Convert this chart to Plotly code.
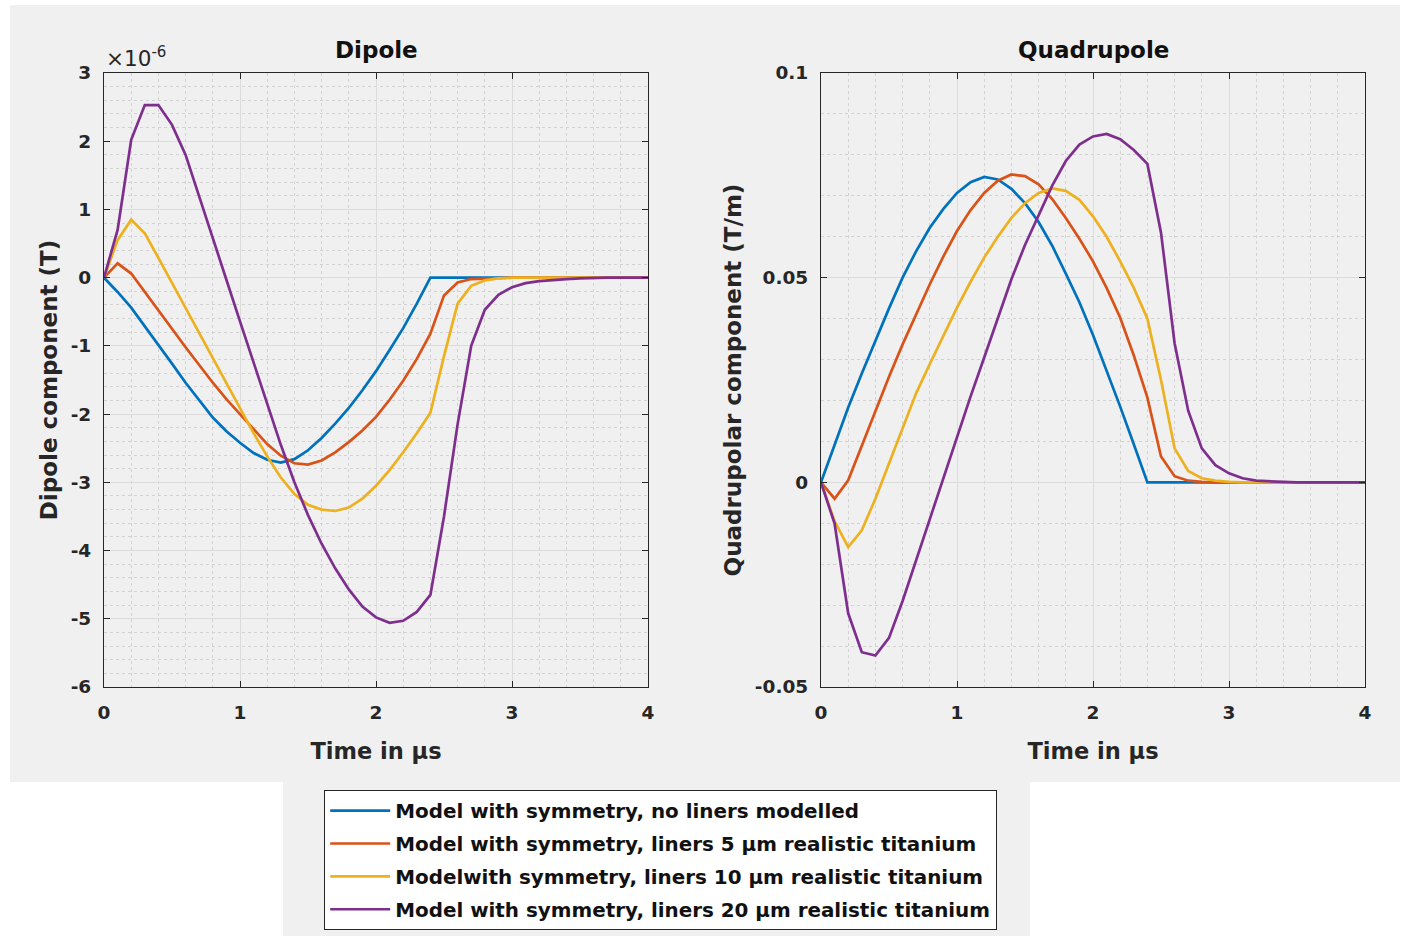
import plotly.graph_objects as go

# ---------------- data ----------------
time_us = [round(0.1 * i, 1) for i in range(41)]

# Dipole component (units of 1e-6 T)
dip_no_liner = [0, -0.21, -0.44, -0.71, -0.98, -1.26, -1.54, -1.80, -2.05, -2.25,
                -2.42, -2.57, -2.67, -2.71, -2.66, -2.53, -2.35, -2.14, -1.91, -1.65,
                -1.37, -1.06, -0.74, -0.38, 0, 0, 0, 0, 0, 0,
                0, 0, 0, 0, 0, 0, 0, 0, 0, 0, 0]
dip_5um = [0, 0.21, 0.06, -0.21, -0.49, -0.76, -1.02, -1.28, -1.54, -1.78,
           -2.00, -2.23, -2.44, -2.61, -2.72, -2.74, -2.68, -2.56, -2.41, -2.24,
           -2.04, -1.79, -1.51, -1.19, -0.82, -0.26, -0.07, -0.02, -0.01, 0,
           0, 0, 0, 0, 0, 0, 0, 0, 0, 0, 0]
dip_10um = [0, 0.55, 0.85, 0.65, 0.29, -0.08, -0.45, -0.82, -1.19, -1.56,
            -1.92, -2.28, -2.62, -2.93, -3.17, -3.33, -3.40, -3.42, -3.37, -3.24,
            -3.05, -2.82, -2.56, -2.28, -1.98, -1.15, -0.38, -0.12, -0.04, -0.01,
            0, 0, 0, 0, 0, 0, 0, 0, 0, 0, 0]
dip_20um = [0, 0.70, 2.02, 2.53, 2.53, 2.24, 1.80, 1.20, 0.58, -0.03,
            -0.64, -1.25, -1.86, -2.45, -3.00, -3.48, -3.90, -4.26, -4.57, -4.82,
            -4.98, -5.06, -5.03, -4.90, -4.65, -3.50, -2.15, -1.00, -0.47, -0.25,
            -0.14, -0.08, -0.05, -0.03, -0.02, -0.01, 0, 0, 0, 0, 0]

# Quadrupolar component (T/m)
quad_no_liner = [0, 0.0092, 0.0183, 0.0266, 0.0346, 0.0425, 0.0500, 0.0565, 0.0622, 0.0668,
                 0.0707, 0.0733, 0.0746, 0.0740, 0.0717, 0.0682, 0.0636, 0.0578, 0.0510, 0.0440,
                 0.0360, 0.0275, 0.0185, 0.0093, 0, 0, 0, 0, 0, 0,
                 0, 0, 0, 0, 0, 0, 0, 0, 0, 0, 0]
quad_5um = [0, -0.0040, 0.0005, 0.0090, 0.0175, 0.0258, 0.0337, 0.0412, 0.0484, 0.0552,
            0.0614, 0.0665, 0.0707, 0.0737, 0.0752, 0.0748, 0.0728, 0.0692, 0.0646, 0.0595,
            0.0540, 0.0475, 0.0402, 0.0310, 0.0207, 0.0063, 0.0015, 0.0004, 0.0001, 0,
            0, 0, 0, 0, 0, 0, 0, 0, 0, 0, 0]
quad_10um = [0, -0.0095, -0.0158, -0.0117, -0.0040, 0.0047, 0.0135, 0.0218, 0.0289, 0.0360,
             0.0427, 0.0490, 0.0549, 0.0600, 0.0646, 0.0682, 0.0707, 0.0718, 0.0712, 0.0690,
             0.0650, 0.0600, 0.0540, 0.0475, 0.0400, 0.0250, 0.0083, 0.0028, 0.0010, 0.0004,
             0.0001, 0, 0, 0, 0, 0, 0, 0, 0, 0, 0]
quad_20um = [0, -0.0101, -0.0320, -0.0415, -0.0423, -0.0380, -0.0290, -0.0190, -0.0085, 0.0015,
             0.0110, 0.0210, 0.0305, 0.0400, 0.0496, 0.0580, 0.0654, 0.0725, 0.0785, 0.0825,
             0.0845, 0.0851, 0.0838, 0.0812, 0.0778, 0.0610, 0.0340, 0.0175, 0.0083, 0.0042,
             0.0022, 0.0010, 0.0004, 0.0002, 0.0001, 0, 0, 0, 0, 0, 0]

series_names = [
    "Model with symmetry, no liners modelled",
    "Model with symmetry, liners 5 \u00b5m realistic titanium",
    "Modelwith symmetry, liners 10 \u00b5m realistic titanium",
    "Model with symmetry, liners 20 \u00b5m realistic titanium",
]
colors = ["#0072BD", "#D95319", "#EDB120", "#7E2F8E"]

dipole_series = [dip_no_liner, dip_5um, dip_10um, dip_20um]
quad_series = [quad_no_liner, quad_5um, quad_10um, quad_20um]

dip_ticks = [-6, -5, -4, -3, -2, -1, 0, 1, 2, 3]
dip_ticktext = ["-6", "-5", "-4", "-3", "-2", "-1", "0", "1", "2", "3"]
quad_ticks = [-0.05, 0, 0.05, 0.1]
quad_ticktext = ["-0.05", "0", "0.05", "0.1"]
x_ticks = [0, 1, 2, 3, 4]
x_ticktext = ["0", "1", "2", "3", "4"]

# ---------------- figure ----------------
W, H = 1401, 936
FONT = "DejaVu Sans, Verdana, sans-serif"
AX = "#262626"

fig = go.Figure()

for i in range(4):
    fig.add_trace(go.Scatter(
        x=time_us, y=dipole_series[i], mode="lines", name=series_names[i],
        line=dict(color=colors[i], width=2.7), legendgroup=str(i),
        xaxis="x", yaxis="y", showlegend=True))
for i in range(4):
    fig.add_trace(go.Scatter(
        x=time_us, y=quad_series[i], mode="lines", name=series_names[i],
        line=dict(color=colors[i], width=2.7), legendgroup=str(i),
        xaxis="x2", yaxis="y2", showlegend=False))

def px_x(p):
    return p / W

def px_y(p):
    return 1 - p / H

common_axis = dict(
    showline=True, linecolor=AX, linewidth=1.2, mirror="allticks",
    ticks="inside", ticklen=6, tickcolor=AX, tickwidth=1,
    showgrid=True, gridcolor="#dcdcdc", gridwidth=1,
    zeroline=False, automargin=False,
    tickfont=dict(family=FONT, size=18.5, color="#262626", weight="bold"),
)

minor_grid = dict(showgrid=True, gridcolor="#d2d2d2", griddash="dot", gridwidth=1, ticks="")

YTITLE_FONT = dict(family=FONT, size=23, color="#262626", weight="bold")
XTITLE_FONT = dict(family=FONT, size=22.5, color="#262626", weight="bold")

xaxis_common = dict(common_axis, range=[0, 4], tickvals=x_ticks, ticktext=x_ticktext,
                    ticklabelstandoff=9,
                    title=dict(text="Time in \u00b5s", standoff=20, font=XTITLE_FONT))

fig.update_layout(
    width=W, height=H,
    margin=dict(l=0, r=0, t=0, b=0),
    paper_bgcolor="white", plot_bgcolor="white",
    xaxis=dict(xaxis_common, domain=[px_x(104), px_x(648)], anchor="y",
               minor=dict(minor_grid, dtick=0.2)),
    yaxis=dict(common_axis, domain=[px_y(687), px_y(73)], anchor="x", range=[-6, 3],
               tickvals=dip_ticks, ticktext=dip_ticktext, ticklabelstandoff=8,
               minor=dict(minor_grid, dtick=0.2),
               title=dict(text="Dipole component (T)", standoff=6, font=YTITLE_FONT)),
    xaxis2=dict(xaxis_common, domain=[px_x(821), px_x(1365)], anchor="y2",
                minor=dict(minor_grid, dtick=0.2)),
    yaxis2=dict(common_axis, domain=[px_y(687), px_y(73)], anchor="x2", range=[-0.05, 0.1],
                tickvals=quad_ticks, ticktext=quad_ticktext, ticklabelstandoff=8,
                minor=dict(minor_grid, dtick=0.01),
                title=dict(text="Quadrupolar component (T/m)", standoff=6, font=YTITLE_FONT)),
    legend=dict(
        x=px_x(324), y=px_y(790), xanchor="left", yanchor="top",
        bgcolor="white", bordercolor=AX, borderwidth=1.2,
        font=dict(family=FONT, size=19.9, color="#111111", weight="bold"),
        itemwidth=60, tracegroupgap=4,
    ),
    shapes=[
        dict(type="rect", xref="paper", yref="paper", layer="below",
             x0=px_x(10), x1=px_x(1400), y0=px_y(782), y1=px_y(5),
             fillcolor="#f0f0f0", line=dict(width=0)),
        dict(type="rect", xref="paper", yref="paper", layer="below",
             x0=px_x(283), x1=px_x(1030), y0=px_y(936), y1=px_y(782),
             fillcolor="#f0f0f0", line=dict(width=0)),
    ],
    annotations=[
        dict(text="Dipole", xref="paper", yref="paper", x=px_x(376), y=px_y(50),
             xanchor="center", yanchor="middle", showarrow=False,
             font=dict(family=FONT, size=23, color="#111111", weight="bold")),
        dict(text="Quadrupole", xref="paper", yref="paper", x=px_x(1093), y=px_y(50),
             xanchor="center", yanchor="middle", showarrow=False,
             font=dict(family=FONT, size=23, color="#111111", weight="bold")),
        dict(text="\u00d710<sup>-6</sup>", xref="paper", yref="paper", x=px_x(104), y=px_y(57),
             xanchor="left", yanchor="middle", showarrow=False,
             font=dict(family=FONT, size=21.5, color="#262626")),
    ],
)

fig.write_html("out.html")
